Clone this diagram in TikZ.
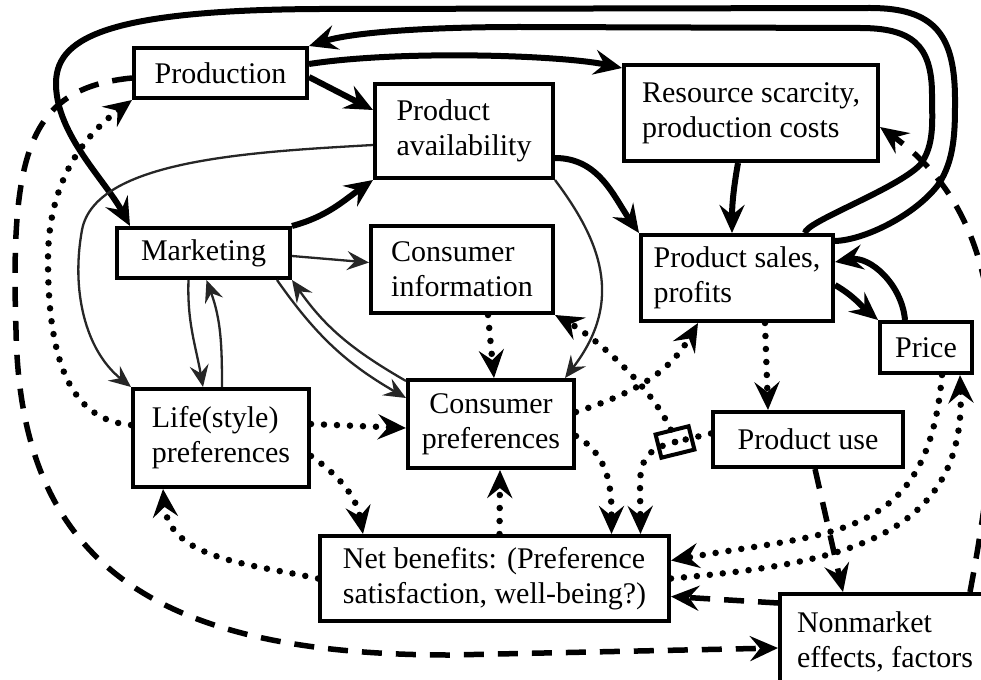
\documentclass[tikz,border=0pt]{standalone}
\usepackage{fontspec}
\setmainfont{Liberation Serif}
\usetikzlibrary{arrows.meta}

\begin{document}
\begin{tikzpicture}[
    x=1pt, y=-1pt,
    every node/.style={font=\fontsize{30}{35}\selectfont},
    box/.style={draw, line width=4pt, inner sep=0pt, align=left},
    tip/.style={-{Stealth[length=28pt, width=25pt, inset=10pt]}},
    strong/.style={tip, line width=6pt},
    weak/.style={line width=2.3pt, draw=black!85, -{Stealth[length=22pt, width=19pt, inset=8pt]}},
    dotline/.style={line width=6.5pt, line cap=round, dash pattern=on 0pt off 13pt},
    dots/.style={dotline, tip},
    dashes/.style={tip, line width=5.5pt, dash pattern=on 20pt off 14pt}
]

\useasboundingbox (0,0) rectangle (981,679);

% Boxes
\node[box, minimum width=173pt, minimum height=50pt] (prod) at (220.5,73) {Production};
\node[box, minimum width=178pt, minimum height=94pt] (avail) at (464,131) {Product\\availability};
\node[box, minimum width=254pt, minimum height=96pt] (scarce) at (751,113) {Resource scarcity,\\production costs};
\node[box, minimum width=173pt, minimum height=50pt] (mkt) at (203.5,253) {Marketing};
\node[box, minimum width=182pt, minimum height=87pt] (info) at (462,269.5) {Consumer\\information};
\node[box, minimum width=192pt, minimum height=86pt] (sales) at (737,278) {Product sales,\\profits};
\node[box, minimum width=92pt, minimum height=51pt] (price) at (926,347.5) {Price};
\node[box, minimum width=176pt, minimum height=98pt] (life) at (221,438) {Life(style)\\preferences};
\node[box, align=center, minimum width=166pt, minimum height=88pt] (cpref) at (491,424) {Consumer\\preferences};
\node[box, minimum width=190pt, minimum height=55pt] (use) at (808,439.5) {Product use};
\node[box, minimum width=349pt, minimum height=85pt] (net) at (494.5,578.5) {Net benefits: (Preference\\satisfaction, well-being?)};
\node[box, minimum width=210pt, minimum height=96pt] (nonmkt) at (885,642) {Nonmarket\\effects, factors};

% small junction on the product use line
\node[draw, line width=4pt, minimum width=34pt, minimum height=24pt, rotate=14] (jn) at (675,442) {};

% Market links (thick)
\draw[strong] ([yshift=-4pt]prod.east) -- ([yshift=21pt]avail.west);
\draw[strong] ([yshift=9pt]prod.east) .. controls (400,50) and (560,55) .. ([yshift=45pt]scarce.west);
\draw[strong] (mkt.north east) to[out=15, in=215] (avail.south west);
\draw[strong] ([yshift=-27pt]avail.east) to[out=0, in=125] (sales.north west);
\draw[strong] ([xshift=-13pt]scarce.south) to[out=-100, in=90] ([xshift=-5pt]sales.north);
\draw[strong] ([yshift=-7pt]sales.east) to[out=-30, in=140] (price.north west);
\draw[strong] ([xshift=-21pt]price.north) to[out=95, in=10] ([yshift=16pt]sales.east);

% Loops over the top
\draw[strong] ([xshift=68pt]sales.north) .. controls (805,222) and (895,190) .. (920,165)
    .. controls (935,145) and (932,120) .. (932,95)
    .. controls (932,45) and (912,28) .. (860,28) -- (520,27)
    .. controls (420,27) and (350,33) .. (prod.north east);
\draw[strong] ([yshift=-8pt]sales.north east) .. controls (865,240) and (915,215) .. (938,185)
    .. controls (955,160) and (955,130) .. (955,100)
    .. controls (955,35) and (935,8) .. (870,8) -- (320,9)
    .. controls (100,10) and (55,40) .. (56,85)
    .. controls (57,135) and (105,180) .. ([xshift=15pt]mkt.north west);

% Marketing and preference links (thin)
\draw[weak] ([yshift=-3pt]mkt.east) -- ([yshift=7pt]info.west);
\draw[weak] ([yshift=-14pt]avail.west) .. controls (250,152) and (95,160) .. (82,230)
    .. controls (71,290) and (85,350) .. (life.north west);
\draw[weak] (avail.south east) .. controls (600,240) and (625,300) .. ([xshift=-11pt]cpref.north east);
\draw[weak] ([xshift=-15pt]mkt.south) to[out=-92, in=100] ([xshift=-18pt]life.north);
\draw[weak] ([xshift=1pt]life.north) to[out=90, in=-70] ([xshift=3pt]mkt.south);
\draw[weak] ([xshift=-15pt]mkt.south east) to[out=-55, in=150] ([yshift=-20pt]cpref.north west);
\draw[weak] ([yshift=-3pt]cpref.north west) to[out=150, in=-55] (mkt.south east);

% Preference and benefit links (dotted)
\draw[dots] ([yshift=13pt]life.west) .. controls (70,420) and (48,360) .. (48,260)
    .. controls (48,180) and (85,135) .. (prod.south west);
\draw[dots] ([yshift=14pt]life.east) -- ([yshift=-4pt]cpref.west);
\draw[dots] ([yshift=-18pt]life.east) to[out=-35, in=100] ([xshift=45pt]net.north west);
\draw[dots] (net.west) to[out=168, in=-85] ([xshift=-58pt]life.south);
\draw[dots] ([xshift=26pt]info.south) -- ([xshift=3pt]cpref.north);
\draw[dots] ([xshift=5pt]net.north) -- ([xshift=9pt]cpref.south);
\draw[dots] ([yshift=12pt]cpref.east) to[out=18, in=240] ([xshift=-39pt]sales.south);
\draw[dots] ([yshift=-12pt]cpref.east) to[out=-30, in=90] ([xshift=117pt]net.north);
\draw[dots] ([xshift=28pt]sales.south) -- ([xshift=-40pt]use.north);
\draw[dots] ([xshift=16pt]price.south) to[out=-95, in=10, looseness=1.3] ([yshift=18pt]net.east);
\draw[dots] (net.east) to[out=5, in=-88, looseness=1.2] ([xshift=34pt]price.south);

% Through the junction
\draw[dotline] ([yshift=6pt]use.west) -- (jn.center);
\draw[dots] (jn.center) .. controls (665,400) and (600,340) .. (info.south east);
\draw[dots] (jn.center) .. controls (652,448) and (640,455) .. (640,485) -- ([xshift=146pt]net.north);

% Nonmarket links (dashed)
\draw[dashes] ([yshift=-5pt]prod.west) .. controls (30,88) and (10,150) .. (16,330)
    .. controls (20,560) and (150,655) .. (450,655) -- ([yshift=-6pt]nonmkt.west);
\draw[dashes] ([xshift=7pt]use.south) -- ([xshift=-42pt]nonmkt.north);
\draw[dashes] ([yshift=-11pt]nonmkt.north west) -- ([yshift=-18pt]net.east);
\draw[dashes] ([xshift=85pt]nonmkt.north) .. controls (1010,380) and (1010,220) .. ([yshift=-14pt]scarce.east);

\end{tikzpicture}
\end{document}
